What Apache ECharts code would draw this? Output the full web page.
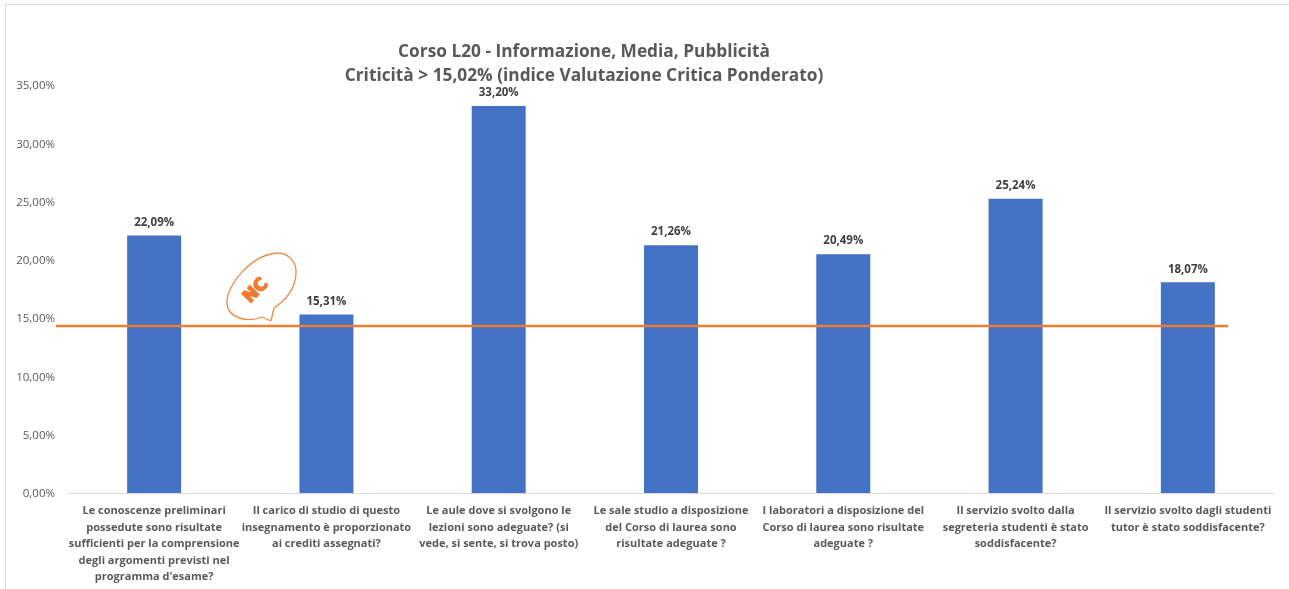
<!DOCTYPE html>
<html><head><meta charset="utf-8">
<style>html,body{margin:0;padding:0;background:#fff}#c{width:1289px;height:589px}</style>
<script src="https://cdn.jsdelivr.net/npm/echarts@6/dist/echarts.min.js"></script>
</head><body><div id="c"></div>
<script>
const categories = [
 "Le conoscenze preliminari\npossedute sono risultate\nsufficienti per la comprensione\ndegli argomenti previsti nel\nprogramma d'esame?",
 "Il carico di studio di questo\ninsegnamento è proporzionato\nai crediti assegnati?",
 "Le aule dove si svolgono le\nlezioni sono adeguate? (si\nvede, si sente, si trova posto)",
 "Le sale studio a disposizione\ndel Corso di laurea sono\nrisultate adeguate ?",
 "I laboratori a disposizione del\nCorso di laurea sono risultate\nadeguate ?",
 "Il servizio svolto dalla\nsegreteria studenti è stato\nsoddisfacente?",
 "Il servizio svolto dagli studenti\ntutor è stato soddisfacente?"
];
const values = [22.09, 15.31, 33.20, 21.26, 20.49, 25.24, 18.07];
const thresholdValue = 14.33;
const titleLines = "Corso L20 - Informazione, Media, Pubblicità\nCriticità > 15,02% (indice Valutazione Critica Ponderato)";
const fmt = v => v.toFixed(2).replace('.', ',') + '%';
const font = '"Open Sans","Noto Sans",sans-serif';
const bubbleStyle = {fill:'none',stroke:'#ed8a3f',lineWidth:1.3};
const curve = (x1,y1,cpx1,cpy1,cpx2,cpy2,x2,y2) => ({type:'bezierCurve',shape:{x1,y1,cpx1,cpy1,cpx2,cpy2,x2,y2},style:bubbleStyle});
const seg = (x1,y1,x2,y2) => ({type:'line',shape:{x1,y1,x2,y2},style:bubbleStyle});
const chart = echarts.init(document.getElementById('c'), null, {renderer:'canvas'});
chart.setOption({
  animation:false,
  backgroundColor:'#fff',
  title:{text:titleLines,left:579,top:35,textAlign:'center',
    textStyle:{fontFamily:font,fontSize:17.3,fontWeight:'bold',color:'#595959',lineHeight:24}},
  grid:[
   {left:68,right:15,top:85,bottom:96},
   {left:56,width:1172,top:85,bottom:96}
  ],
  xAxis:[
   {type:'category',data:categories,axisTick:{show:false},
    axisLine:{lineStyle:{color:'#d9d9d9',width:1}},
    axisLabel:{interval:0,margin:10,fontFamily:font,fontSize:11,fontWeight:'bold',color:'#595959',lineHeight:16.5,align:'center',verticalAlign:'top'}},
   {type:'value',gridIndex:1,min:0,max:1,show:false}
  ],
  yAxis:[
   {type:'value',min:0,max:35,interval:5,splitLine:{show:false},axisLine:{show:false},axisTick:{show:false},
    axisLabel:{formatter:v=>'{a|'+fmt(v)+'}',margin:13,rich:{a:{padding:[2,0,0,0],fontFamily:font,fontSize:11.5,color:'#595959'}}}},
   {type:'value',gridIndex:1,min:0,max:35,show:false}
  ],
  series:[
   {type:'bar',data:values,barWidth:54,itemStyle:{color:'#4472c4'},
    label:{show:true,position:'top',distance:7,formatter:p=>fmt(p.value),fontFamily:font,fontSize:11.5,fontWeight:'bold',color:'#404040'}},
   {type:'line',xAxisIndex:1,yAxisIndex:1,symbol:'none',silent:true,z:5,
    data:[[0,thresholdValue],[1,thresholdValue]],lineStyle:{color:'#ed7d31',width:2.5}}
  ],
  graphic:[
   {type:'line',shape:{x1:5.5,y1:5,x2:5.5,y2:589},style:{stroke:'#d9d9d9',lineWidth:1}},
   {type:'line',shape:{x1:5,y1:4.5,x2:1289,y2:4.5},style:{stroke:'#d9d9d9',lineWidth:1}},
   curve(262,317,250,322,228,320,227,303),
   curve(227,303,226,285,252,254,278,253),
   curve(278,253,288,253,297,262,296,273),
   curve(296,273,296,290,283,302,274,308),
   seg(274,308,271,321),
   seg(271,321,262,317),
   {type:'text',x:256,y:291,rotation:Math.PI/4,style:{text:'NC',fill:'#ed7d31',stroke:'#ed7d31',lineWidth:1.6,font:'900 17px "DejaVu Sans",sans-serif',align:'center',verticalAlign:'middle'}}
  ]
});
</script></body></html>
